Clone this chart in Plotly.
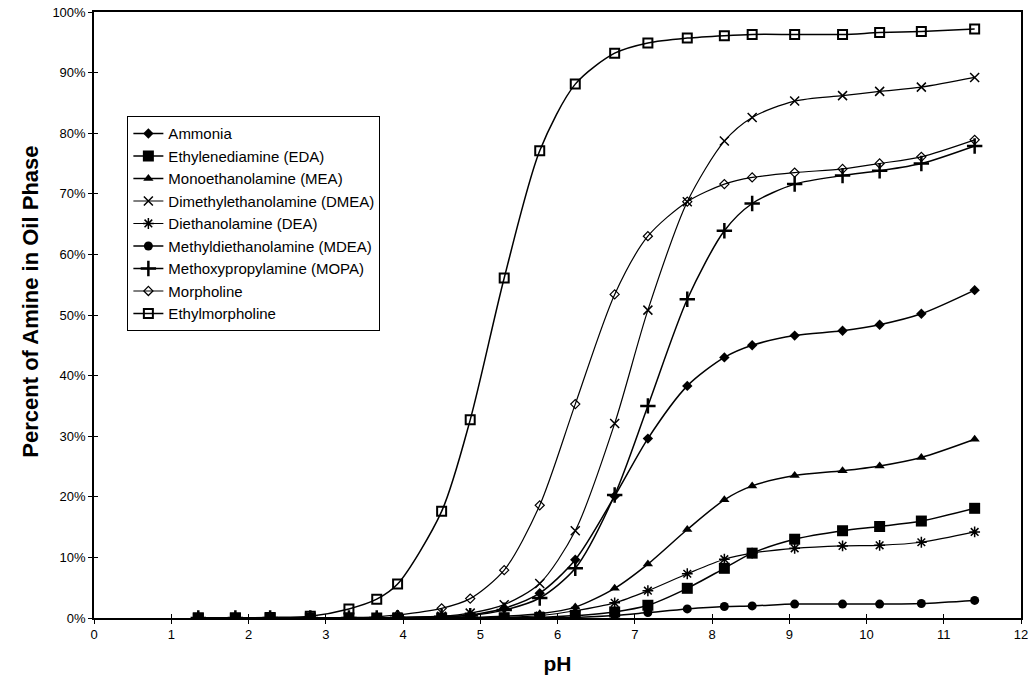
import plotly.graph_objects as go

# pH of each measurement
ph = [1.35, 1.83, 2.28, 2.80, 3.30, 3.66, 3.93, 4.50, 4.87, 5.31, 5.77,
      6.23, 6.74, 7.17, 7.68, 8.16, 8.52, 9.07, 9.69, 10.17, 10.71, 11.40]

# Percent of amine partitioned into the oil phase
ammonia = [0, 0, 0, 0, 0, 0, 0.05, 0.2, 0.5, 1.6, 4.1,
           9.6, 20.1, 29.6, 38.3, 43.0, 45.0, 46.6, 47.4, 48.4, 50.2, 54.1]
eda = [0, 0, 0, 0, 0, 0, 0, 0, 0, 0.05, 0.1,
       0.4, 1.0, 2.1, 4.9, 8.2, 10.7, 13.0, 14.4, 15.1, 16.0, 18.1]
mea = [0, 0, 0, 0, 0, 0, 0, 0, 0.1, 0.3, 0.7,
       1.8, 4.9, 8.9, 14.6, 19.5, 21.8, 23.5, 24.3, 25.1, 26.5, 29.5]
dmea = [0, 0, 0, 0, 0, 0, 0.1, 0.3, 0.8, 2.2, 5.7,
        14.4, 32.1, 50.8, 68.7, 78.7, 82.6, 85.3, 86.2, 86.9, 87.6, 89.2]
dea = [0, 0, 0, 0, 0, 0, 0, 0, 0, 0.1, 0.4,
       1.2, 2.5, 4.5, 7.3, 9.7, 10.7, 11.5, 11.9, 12.0, 12.5, 14.2]
mdea = [0, 0, 0, 0, 0, 0, 0, 0, 0, 0, 0.05,
        0.1, 0.4, 0.9, 1.5, 1.9, 2.0, 2.3, 2.3, 2.3, 2.4, 2.9]
mopa = [0, 0, 0, 0, 0, 0, 0.05, 0.2, 0.4, 1.3, 3.3,
        8.2, 20.3, 35.0, 52.6, 63.9, 68.4, 71.6, 73.0, 73.8, 75.0, 77.9]
morpholine = [0, 0, 0, 0, 0.1, 0.2, 0.5, 1.6, 3.2, 7.9, 18.6,
              35.3, 53.4, 63.0, 68.7, 71.6, 72.7, 73.5, 74.1, 75.0, 76.1, 78.9]
ethylmorpholine = [0, 0, 0.1, 0.3, 1.5, 3.1, 5.6, 17.6, 32.7, 56.1, 77.1,
                   88.1, 93.2, 94.9, 95.7, 96.1, 96.3, 96.3, 96.3, 96.6, 96.8, 97.2]

names = ["Ammonia", "Ethylenediamine (EDA)", "Monoethanolamine (MEA)",
         "Dimethylethanolamine (DMEA)", "Diethanolamine (DEA)",
         "Methyldiethanolamine (MDEA)", "Methoxypropylamine (MOPA)",
         "Morpholine", "Ethylmorpholine"]
values = [ammonia, eda, mea, dmea, dea, mdea, mopa, morpholine, ethylmorpholine]

# marker style per series: (symbol, size, outline width, fill colour)
styles = [
    ("diamond", 8, 0, "black"),
    ("square", 11, 0, "black"),
    ("triangle-up", 9, 0, "black"),
    ("x-thin-open", 9, 1.5, "black"),
    ("asterisk-open", 9, 1.5, "black"),
    ("circle", 9, 0, "black"),
    ("cross-thin-open", 11, 2.5, "black"),
    ("diamond-open", 7, 1.2, "white"),
    ("square-open", 9, 2, "white"),
]
line_widths = [1.5, 1.5, 1.5, 1.2, 1.2, 1.5, 1.5, 1.2, 1.5]

fig = go.Figure()

# draw the last series first so the filled markers sit on top near zero
order = list(range(len(names)))[::-1]
for i in order:
    sym, size, lw, fill = styles[i]
    fig.add_trace(go.Scatter(
        x=ph, y=values[i], name=names[i], mode="lines+markers",
        line=dict(color="black", width=line_widths[i], shape="spline", smoothing=0.8),
        marker=dict(symbol=sym, size=size, color=fill if "open" not in sym else "black",
                    line=dict(color="black", width=lw)),
        legendrank=i + 1,
    ))

# invisible trace on a twin axis pair to give ticks that cross the axis lines
fig.add_trace(go.Scatter(x=[None], y=[None], xaxis="x2", yaxis="y2",
                         showlegend=False, hoverinfo="skip"))

font_family = "Liberation Sans, Arial, sans-serif"

fig.update_layout(
    width=1035, height=686,
    margin=dict(l=94, r=14, t=12, b=68, autoexpand=False),
    paper_bgcolor="white", plot_bgcolor="white",
    font=dict(family=font_family, color="black", size=13),
    showlegend=True,
    legend=dict(
        x=0.036, y=0.828, xanchor="left", yanchor="top",
        bgcolor="white", bordercolor="black", borderwidth=1,
        font=dict(size=15, family=font_family, color="black"),
        tracegroupgap=0, itemwidth=30,
    ),
    xaxis=dict(
        range=[0, 12], dtick=1, tick0=0, automargin=False,
        showgrid=False, zeroline=False,
        showline=True, linecolor="black", linewidth=1.5, mirror=True,
        ticks="outside", ticklen=4, tickcolor="black", tickwidth=1,
        tickfont=dict(size=13, family=font_family, color="black"),
        title=dict(text="<b>pH</b>", font=dict(size=21, family=font_family, color="black")),
    ),
    yaxis=dict(
        range=[0, 100], dtick=10, tick0=0, ticksuffix="%", automargin=False,
        showgrid=False, zeroline=False,
        showline=True, linecolor="black", linewidth=1.5, mirror=True,
        ticks="outside", ticklen=4, tickcolor="black", tickwidth=1,
        tickfont=dict(size=13, family=font_family, color="black"),
    ),
    xaxis2=dict(range=[0, 12], dtick=1, tick0=0, overlaying="x", anchor="y2",
                side="bottom", showgrid=False, zeroline=False, showline=False,
                automargin=False,
                ticks="inside", ticklen=4, tickcolor="black", showticklabels=False),
    yaxis2=dict(range=[0, 100], dtick=10, tick0=0, overlaying="y", anchor="x2",
                side="left", showgrid=False, zeroline=False, showline=False,
                automargin=False,
                ticks="inside", ticklen=4, tickcolor="black", showticklabels=False),
    annotations=[dict(
        text="<b>Percent of Amine in Oil Phase</b>", textangle=-90,
        xref="paper", yref="paper", x=-0.068, y=0.522,
        xanchor="center", yanchor="middle", showarrow=False,
        font=dict(size=22, family=font_family, color="black"),
    )],
)

fig.write_html("out.html")
